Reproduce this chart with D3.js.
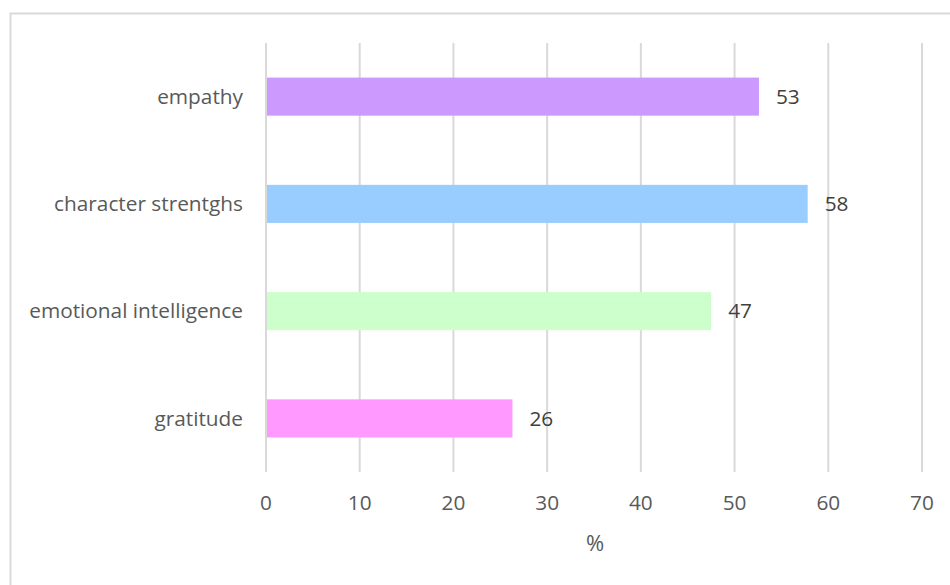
<!DOCTYPE html>
<html>
<head>
<meta charset="utf-8">
<script src="https://cdn.jsdelivr.net/npm/d3@7"></script>
<style>
  body { margin: 0; background: #fff; }
  text { font-family: "Open Sans", sans-serif; }
</style>
</head>
<body>
<svg id="chart" width="950" height="585"></svg>
<script>
// Chart data, listed top-down as in the picture.
var categories = ['empathy', 'character strentghs', 'emotional intelligence', 'gratitude'];
var values = [52.6, 57.8, 47.5, 26.3];
var valueLabels = ['53', '58', '47', '26'];
var barColors = ['#CC99FF', '#99CCFF', '#CCFFCC', '#FF99FF'];
var xTicks = [0, 10, 20, 30, 40, 50, 60, 70];
var xTitle = '%';

var FONT_PX = 20.8;

var svg = d3.select('#chart');

// Chart outer border (runs off the right and bottom edges).
svg.append('rect')
  .attr('x', 10.5).attr('y', 13.5)
  .attr('width', 960).attr('height', 600)
  .attr('fill', 'none')
  .attr('stroke', '#D9D9D9')
  .attr('stroke-width', 2);

var plot = {left: 266, right: 922, top: 43, bottom: 472};

var x = d3.scaleLinear()
  .domain([0, 70])
  .range([plot.left, plot.right]);

var y = d3.scaleBand()
  .domain(categories)
  .range([plot.top, plot.bottom])
  .paddingInner(0.645)
  .paddingOuter(0.3225);

// Vertical gridlines.
svg.append('g')
  .selectAll('line')
  .data(xTicks)
  .join('line')
  .attr('x1', function(d) { return x(d); })
  .attr('x2', function(d) { return x(d); })
  .attr('y1', plot.top)
  .attr('y2', plot.bottom)
  .attr('stroke', '#D9D9D9')
  .attr('stroke-width', 2);

// Bars.
svg.append('g')
  .selectAll('rect')
  .data(categories)
  .join('rect')
  .attr('x', x(0) + 1)
  .attr('y', function(d) { return y(d); })
  .attr('width', function(d, i) { return x(values[i]) - x(0) - 1; })
  .attr('height', y.bandwidth())
  .attr('fill', function(d, i) { return barColors[i]; });

// Value labels.
svg.append('g')
  .selectAll('text')
  .data(categories)
  .join('text')
  .attr('x', function(d, i) { return x(values[i]) + 17; })
  .attr('y', function(d) { return y(d) + y.bandwidth() / 2; })
  .attr('dy', '0.35em')
  .attr('font-size', FONT_PX)
  .attr('fill', '#404040')
  .text(function(d, i) { return valueLabels[i]; });

// Category labels.
svg.append('g')
  .selectAll('text')
  .data(categories)
  .join('text')
  .attr('x', 243)
  .attr('y', function(d) { return y(d) + y.bandwidth() / 2; })
  .attr('dy', '0.35em')
  .attr('text-anchor', 'end')
  .attr('font-size', FONT_PX)
  .attr('fill', '#595959')
  .text(function(d) { return d; });

// X tick labels.
svg.append('g')
  .selectAll('text')
  .data(xTicks)
  .join('text')
  .attr('x', function(d) { return x(d); })
  .attr('y', 503)
  .attr('dy', '0.35em')
  .attr('text-anchor', 'middle')
  .attr('font-size', FONT_PX)
  .attr('fill', '#595959')
  .text(function(d) { return d; });

// Axis title.
svg.append('text')
  .attr('x', 595)
  .attr('y', 543)
  .attr('dy', '0.35em')
  .attr('text-anchor', 'middle')
  .attr('font-size', 22)
  .attr('fill', '#595959')
  .text(xTitle);
</script>
</body>
</html>
